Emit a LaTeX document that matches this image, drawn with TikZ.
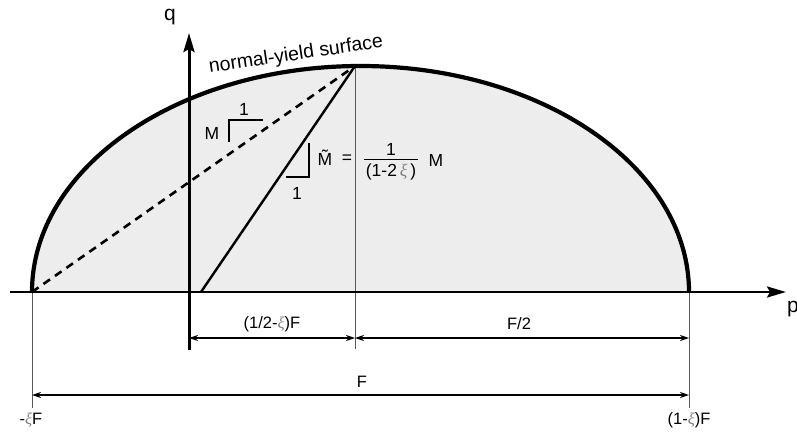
\documentclass[tikz,border=0pt]{standalone}
\usepackage{fontspec}
\setmainfont{Liberation Sans}
\newfontfamily\xifont{Liberation Serif}
\usetikzlibrary{arrows.meta}
\newcommand{\xisym}{{\color{black!50}\xifont\itshape ξ}}
\begin{document}
\begin{tikzpicture}[x=1pt,y=-1pt,
  lbl/.style={font=\fontsize{16.5}{19}\selectfont, inner sep=0pt},
  slbl/.style={font=\fontsize{17.5}{20}\selectfont, inner sep=0pt},
  dimline/.style={line width=1.2pt, {Stealth[length=9pt,width=6pt]}-{Stealth[length=9pt,width=6pt]}},
  extline/.style={line width=0.8pt, black!65},
  axis/.style={line width=2.6pt, -{Stealth[length=19pt,width=11pt,inset=3pt]}},
  slope/.style={line width=1.1pt}]
\useasboundingbox (0,0) rectangle (797,434);
% key points
\coordinate (L) at (32,292);
\coordinate (R) at (689,292);
\coordinate (T) at (355,66);
\coordinate (S) at (201,292);
\coordinate (Lb) at (32,408);
\coordinate (Rb) at (689,408);
\coordinate (Tb) at (355,349);
\coordinate (Xa) at (10,292);
\coordinate (Xb) at (786,292);
\coordinate (Qa) at (189,350);
\coordinate (Qb) at (189,33);
\coordinate (D1a) at (189,338);
\coordinate (D1b) at (355,338);
\coordinate (D2b) at (689,338);
\coordinate (D3a) at (32,395);
\coordinate (D3b) at (689,395);
% yield surface fill
\fill[black!7] (L) arc[start angle=180,end angle=0,x radius=328.5pt,y radius=226pt] -- cycle;
% extension lines
\draw[extline] (T) -- (Tb);
\draw[extline] (L) -- (Lb);
\draw[extline] (R) -- (Rb);
% axes
\draw[axis] (Xa) -- (Xb);
\draw[axis, line width=3pt] (Qa) -- (Qb);
% lines to the top
\draw[line width=2.6pt, dash pattern=on 8pt off 6pt] (L) -- (T);
\draw[line width=2.4pt] (S) -- (T);
% yield surface outline
\draw[line width=4.2pt] (L) arc[start angle=180,end angle=0,x radius=328.5pt,y radius=226pt];
% dimensions
\draw[dimline] (D1a) -- (D1b);
\draw[dimline] (D1b) -- (D2b);
\draw[dimline] (D3a) -- (D3b);
% slope triangles
\coordinate (M1a) at (229,142);
\coordinate (M1b) at (229,120);
\coordinate (M1c) at (263,120);
\draw[slope] (M1a) -- (M1b) -- (M1c);
\coordinate (M2a) at (309,143);
\coordinate (M2b) at (309,177);
\coordinate (M2c) at (286,177);
\draw[slope] (M2a) -- (M2b) -- (M2c);
% labels
\node[font=\fontsize{21}{24}\selectfont, inner sep=0pt] (q) at (170,17) {q};
\node[font=\fontsize{21}{24}\selectfont, inner sep=0pt, anchor=north west] (p) at (787,301) {p};
\node[font=\fontsize{19.5}{22}\selectfont, inner sep=0pt, rotate=8.5] (nys) at (296,55) {normal-yield surface};
\node[slbl] (m1) at (212,133) {M};
\node[slbl] (one1) at (244,109) {1};
\node[slbl] (one2) at (297,193) {1};
\node[slbl] (mt) at (325,158) {\~{M}};
\node[slbl] (eq) at (347,159) {=};
\node[slbl] (frac) at (391,162) {\setlength{\tabcolsep}{1.5pt}\renewcommand{\arraystretch}{1.0}\begin{tabular}{c}1\\[-2pt]\hline\rule{0pt}{17pt}(1-2\,\xisym\,)\end{tabular}};
\node[slbl] (m2) at (436,160) {M};
\node[lbl] (d1) at (272,324) {(1/2-\xisym)F};
\node[lbl] (d2) at (519,324) {F/2};
\node[lbl] (d3) at (362,382) {F};
\node[lbl] (xl) at (31,420) {-\xisym F};
\node[lbl] (xr) at (689,420) {(1-\xisym)F};
\end{tikzpicture}
\end{document}
